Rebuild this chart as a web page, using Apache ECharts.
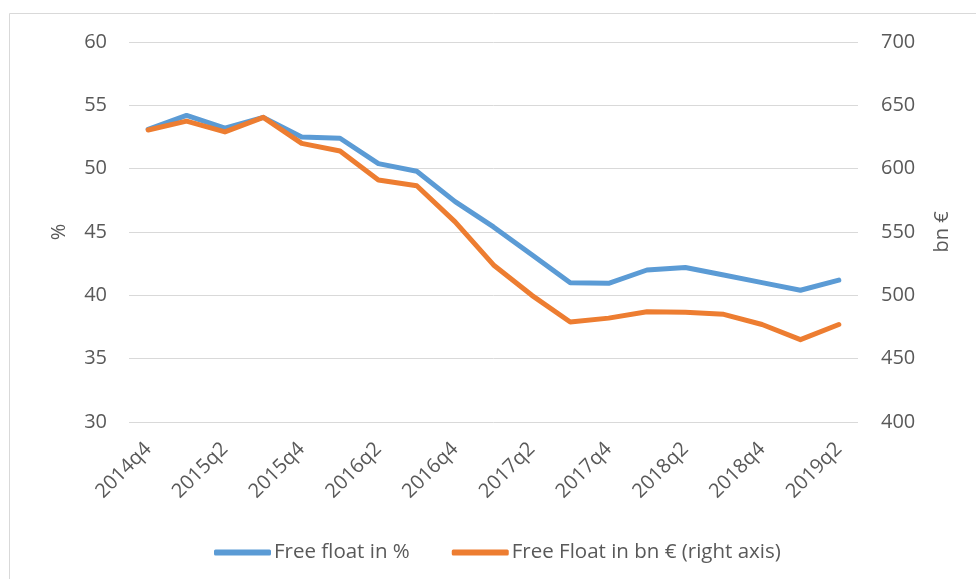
<!DOCTYPE html>
<html>
<head>
<meta charset="utf-8">
<script src="https://cdn.jsdelivr.net/npm/echarts@6/dist/echarts.min.js"></script>
<style>
  html, body { margin: 0; padding: 0; background: #fff; }
  #chart { width: 976px; height: 579px; }
</style>
</head>
<body>
<div id="chart"></div>
<script>
const quarters = [
  '2014q4', '2015q1', '2015q2', '2015q3', '2015q4',
  '2016q1', '2016q2', '2016q3', '2016q4',
  '2017q1', '2017q2', '2017q3', '2017q4',
  '2018q1', '2018q2', '2018q3', '2018q4',
  '2019q1', '2019q2',
]
const freeFloatPct = [
  53.1, 54.2, 53.2, 54.05, 52.5,
  52.4, 50.4, 49.8, 47.4,
  45.4, 43.2, 41.0, 40.95,
  42.0, 42.2, 41.6, 41.0,
  40.4, 41.2,
]
const freeFloatBn = [
  630.5, 637.5, 629, 640.5, 620,
  614, 591, 586.5, 558,
  524, 500, 479, 482,
  487, 486.6, 485, 477,
  465, 477,
]

const textColor = '#595959'
const gridColor = '#d9d9d9'
const font = "'Open Sans', sans-serif"
const fontSize = 20
const blue = '#5b9bd5'
const orange = '#ed7d31'

const chart = echarts.init(document.getElementById('chart'))

chart.setOption({
  animation: false,
  textStyle: { fontFamily: font, color: textColor },
  graphic: [
    {
      type: 'rect',
      shape: { x: 9.5, y: 13.5, width: 1000, height: 600 },
      style: { fill: 'none', stroke: gridColor, lineWidth: 1 },
      silent: true,
    },
  ],
  legend: {
    left: 209,
    top: 537,
    itemWidth: 57,
    itemHeight: 6,
    itemGap: 42,
    icon: 'roundRect',
    textStyle: { fontFamily: font, fontSize: 20.5, color: textColor, padding: [0, 0, 0, -2] },
    data: ['Free float in %', 'Free Float in bn € (right axis)'],
  },
  grid: { left: 129, right: 118, top: 42, bottom: 157 },
  xAxis: {
    type: 'category',
    data: quarters,
    boundaryGap: true,
    axisLine: { show: false },
    axisTick: { show: false },
    axisLabel: {
      interval: 1,
      rotate: 45,
      margin: 24,
      fontSize: fontSize,
      color: textColor,
      fontFamily: font,
    },
  },
  yAxis: [
    {
      type: 'value',
      name: '%',
      nameLocation: 'middle',
      nameRotate: 90,
      nameGap: 60,
      nameTextStyle: { fontSize: fontSize, color: textColor, fontFamily: font },
      min: 30,
      max: 60,
      interval: 5,
      axisLine: { show: false },
      axisTick: { show: false },
      axisLabel: { margin: 22, fontSize: fontSize, color: textColor, fontFamily: font },
      splitLine: { lineStyle: { color: gridColor, width: 1 } },
    },
    {
      type: 'value',
      name: 'bn €',
      nameLocation: 'middle',
      nameRotate: 90,
      nameGap: 74,
      nameTextStyle: { fontSize: fontSize, color: textColor, fontFamily: font },
      min: 400,
      max: 700,
      interval: 50,
      position: 'right',
      axisLine: { show: false },
      axisTick: { show: false },
      axisLabel: { margin: 23, fontSize: fontSize, color: textColor, fontFamily: font },
      splitLine: { show: false },
    },
  ],
  series: [
    {
      name: 'Free float in %',
      type: 'line',
      yAxisIndex: 0,
      data: freeFloatPct,
      symbol: 'none',
      lineStyle: { width: 5, color: blue, cap: 'round', join: 'round' },
      itemStyle: { color: blue },
    },
    {
      name: 'Free Float in bn € (right axis)',
      type: 'line',
      yAxisIndex: 1,
      data: freeFloatBn,
      symbol: 'none',
      lineStyle: { width: 5, color: orange, cap: 'round', join: 'round' },
      itemStyle: { color: orange },
    },
  ],
})
</script>
</body>
</html>
